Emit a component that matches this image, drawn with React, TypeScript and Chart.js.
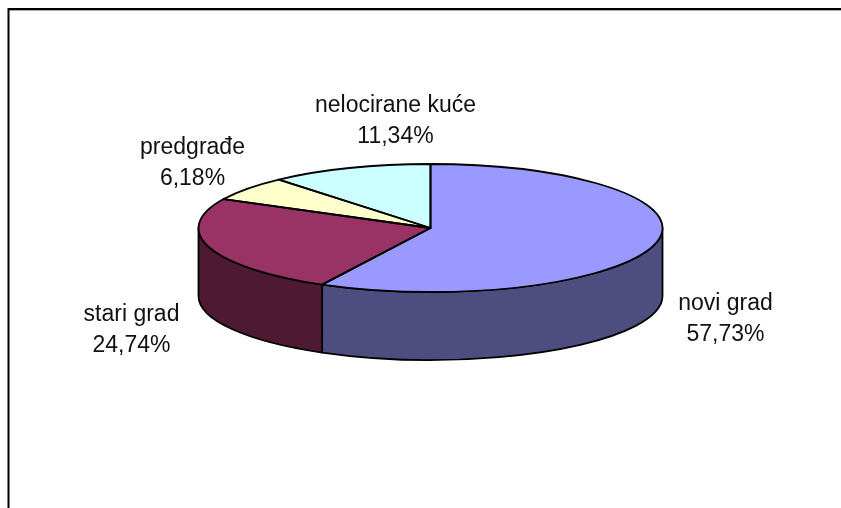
import React, { useEffect, useRef } from "react";
import { Chart, registerables } from "chart.js";

Chart.register(...registerables);

const categories = ["novi grad", "stari grad", "predgrađe", "nelocirane kuće"];
const shares = [57.73, 24.74, 6.18, 11.34];
const shareLabels = ["57,73%", "24,74%", "6,18%", "11,34%"];
const faceColours = ["#9999FF", "#993366", "#FFFFCC", "#CCFFFF"];
const sideColours = ["#4D4D80", "#4D1933", "#808066", "#668080"];

// Where the flattened pie sits on the page
const CX = 430.5;
const CY = 228;
const RY = 64;
const DEPTH = 68;
// Label centres relative to the pie centre
const labelOffsets = [
  [295, 91],
  [-299, 102],
  [-238, -65],
  [-35, -107],
];

const piePerspective = {
  id: "piePerspective",
  beforeDraw(chart: any) {
    const { ctx, width, height } = chart;
    ctx.save();
    ctx.fillStyle = "#fff";
    ctx.fillRect(0, 0, width, height);
    ctx.fillStyle = "#000";
    ctx.fillRect(8, 8, width - 8, 2);
    ctx.fillStyle = "#aaa";
    ctx.fillRect(9, 10, width - 9, 1);
    ctx.strokeStyle = "#000";
    ctx.lineWidth = 2;
    ctx.beginPath();
    ctx.moveTo(8.5, 8);
    ctx.lineTo(8.5, height);
    ctx.stroke();
    ctx.restore();
  },
  beforeDatasetsDraw(chart: any) {
    const { ctx } = chart;
    const arcs = chart.getDatasetMeta(0).data;
    const rx = arcs[0].outerRadius;
    ctx.save();
    ctx.lineWidth = 1.8;
    ctx.lineJoin = "round";
    ctx.strokeStyle = "#000";
    arcs.forEach((arc: any, i: number) => {
      const a0 = Math.max(arc.startAngle, 0);
      const a1 = Math.min(arc.endAngle, Math.PI);
      if (a0 >= a1) return;
      ctx.beginPath();
      ctx.ellipse(CX, CY, rx, RY, 0, a0, a1);
      ctx.ellipse(CX, CY + DEPTH, rx, RY, 0, a1, a0, true);
      ctx.closePath();
      ctx.fillStyle = sideColours[i];
      ctx.fill();
      ctx.stroke();
    });
    ctx.restore();
    ctx.save();
    ctx.translate(CX, CY);
    ctx.scale(1, RY / rx);
    ctx.translate(-arcs[0].x, -arcs[0].y);
  },
  afterDatasetsDraw(chart: any) {
    const { ctx } = chart;
    ctx.restore();
    const arcs = chart.getDatasetMeta(0).data;
    const rx = arcs[0].outerRadius;
    ctx.save();
    ctx.lineWidth = 1.8;
    ctx.lineJoin = "round";
    ctx.strokeStyle = "#000";
    arcs.forEach((arc: any) => {
      ctx.beginPath();
      ctx.moveTo(CX, CY);
      ctx.ellipse(CX, CY, rx, RY, 0, arc.startAngle, arc.endAngle);
      ctx.closePath();
      ctx.stroke();
    });
    ctx.fillStyle = "#111";
    ctx.font = '23px "Liberation Sans", Arial, sans-serif';
    ctx.textAlign = "center";
    ctx.textBaseline = "middle";
    categories.forEach((name, i) => {
      const [dx, dy] = labelOffsets[i];
      ctx.fillText(name, CX + dx, CY + dy - 15.5);
      ctx.fillText(shareLabels[i], CX + dx, CY + dy + 15.5);
    });
    ctx.restore();
  },
};

export default function App() {
  const ref = useRef<HTMLCanvasElement>(null);
  useEffect(() => {
    const chart = new Chart(ref.current as HTMLCanvasElement, {
      type: "pie",
      data: {
        labels: categories,
        datasets: [{ data: shares, backgroundColor: faceColours, borderWidth: 0 }],
      },
      options: {
        animation: false,
        responsive: false,
        layout: { padding: { left: 198, right: 179, top: 22, bottom: 22 } },
        plugins: { legend: { display: false }, tooltip: { enabled: false } },
      },
      plugins: [piePerspective],
    } as any);
    return () => chart.destroy();
  }, []);
  return (
    <canvas
      ref={ref}
      width={841}
      height={508}
      style={{ position: "absolute", left: 0, top: 0, display: "block" }}
    />
  );
}
